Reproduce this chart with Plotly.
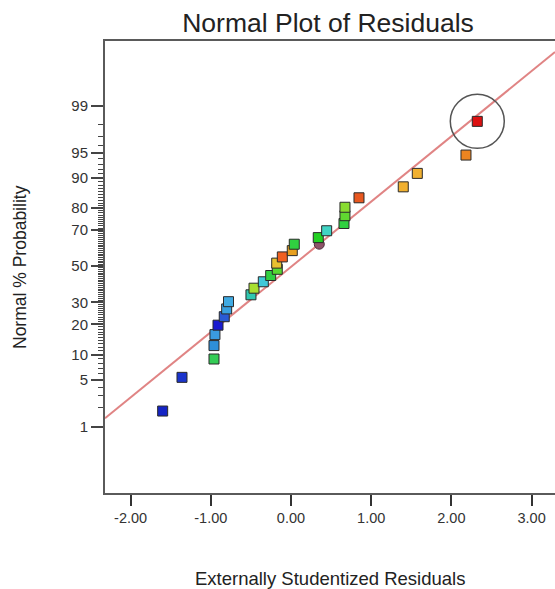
import plotly.graph_objects as go
from statistics import NormalDist

_nd = NormalDist()


def probit(pct):
    return _nd.inv_cdf(pct / 100.0)


# ---- data ----
residuals = [-1.600, -1.359, -0.960, -0.960, -0.948, -0.910, -0.832, -0.802,
             -0.779, -0.499, -0.461, -0.345, -0.253, -0.171, -0.178, -0.108,
             0.016, 0.041, 0.340, 0.445, 0.661, 0.673, 0.673, 0.848,
             1.400, 1.575, 2.182, 2.323]
normal_pct = [1.79, 5.36, 8.93, 12.50, 16.07, 19.64, 23.21, 26.79,
              30.36, 33.93, 37.50, 41.07, 44.64, 48.21, 51.79, 55.36,
              58.93, 62.50, 66.07, 69.64, 73.21, 76.79, 80.36, 83.93,
              87.50, 91.07, 94.64, 98.21]
point_colors = ["#1424c4", "#1a34cc", "#33cc55", "#2e8fd8", "#3a9be0", "#1a1ad0",
                "#2a5ad4", "#38a0e0", "#40aae2", "#30c8b0", "#a8e030", "#40c8d8",
                "#30d040", "#58d830", "#e8c030", "#f06020", "#e8a020", "#30d040",
                "#22d022", "#40d4c4", "#30d040", "#60d830", "#88dc30", "#e85820",
                "#f0b030", "#f0b030", "#ec8420", "#dd1010"]

extra_point_x = [0.353]
extra_point_pct = [62.5]

# highlighted point (circled)
highlight_x = 2.323
highlight_pct = 98.21

# reference line: z = slope * residual + intercept
line_slope = 0.946
line_intercept = -0.01

x_range = [-2.319, 3.292]
y_range = [-3.287, 3.264]

x_tick_vals = [-2, -1, 0, 1, 2, 3]
x_tick_text = ["-2.00", "-1.00", "0.00", "1.00", "2.00", "3.00"]
y_tick_pct = [1, 5, 10, 20, 30, 50, 70, 80, 90, 95, 99]
y_tick_text = ["1", "5", "10", "20", "30", "50", "70", "80", "90", "95", "99"]
y_minor_pct = list(range(1, 100))

FONT = "Liberation Sans, Arial, sans-serif"
AXIS = "#5a5a5a"

fig = go.Figure()

line_x = x_range
line_z = [line_slope * v + line_intercept for v in line_x]
fig.add_trace(go.Scatter(x=line_x, y=line_z, mode="lines",
                         line=dict(color="#e08484", width=2),
                         hoverinfo="skip", showlegend=False))

fig.add_trace(go.Scatter(x=extra_point_x, y=[probit(p) for p in extra_point_pct],
                         mode="markers",
                         marker=dict(symbol="circle", size=10, color="#8e5468",
                                     line=dict(color="#503040", width=1)),
                         showlegend=False))

fig.add_trace(go.Scatter(x=residuals, y=[probit(p) for p in normal_pct],
                         mode="markers",
                         marker=dict(symbol="square", size=10, color=point_colors,
                                     line=dict(color="#2a2a2a", width=1)),
                         showlegend=False))

fig.add_shape(type="circle", xref="x", yref="y",
              xsizemode="pixel", ysizemode="pixel",
              xanchor=highlight_x, yanchor=probit(highlight_pct),
              x0=-27, x1=27, y0=-27, y1=27,
              line=dict(color="#555555", width=1.5))

fig.update_layout(
    width=555, height=589,
    margin=dict(l=105, r=0, t=41, b=96, pad=0),
    paper_bgcolor="white", plot_bgcolor="white",
    font=dict(family=FONT, color="#333333"),
    title=dict(text="Normal Plot of Residuals", font=dict(size=26.5, color="#222222", family=FONT),
               xref="container", yref="container", x=328 / 555, y=1 - 23 / 589,
               xanchor="center", yanchor="middle"),
    xaxis=dict(range=x_range, showgrid=False, zeroline=False,
               showline=True, linecolor=AXIS, linewidth=2, mirror=True,
               tickmode="array", tickvals=x_tick_vals, ticktext=x_tick_text,
               ticks="outside", ticklen=11, tickwidth=1.5, tickcolor="#333333",
               tickfont=dict(size=14.5, color="#333333", family=FONT)),
    yaxis=dict(range=y_range, showgrid=False, zeroline=False,
               showline=True, linecolor=AXIS, linewidth=2, mirror=False,
               tickmode="array", tickvals=[probit(p) for p in y_tick_pct], ticktext=y_tick_text,
               ticks="outside", ticklen=12, tickwidth=1.5, tickcolor="#444444",
               tickfont=dict(size=15, color="#333333", family=FONT),
               minor=dict(tickmode="array", tickvals=[probit(p) for p in y_minor_pct],
                          ticks="outside", ticklen=5, tickwidth=1, tickcolor="#444444",
                          showgrid=False)),
    annotations=[
        dict(text="Normal % Probability", xref="paper", yref="paper",
             x=(20 - 105) / 450, y=(493 - 267) / 452, textangle=-90,
             showarrow=False, xanchor="center", yanchor="middle",
             font=dict(size=17.5, color="#222222", family=FONT)),
        dict(text="Externally Studentized Residuals", xref="paper", yref="paper",
             x=(330 - 105) / 450, y=(493 - 578) / 452,
             showarrow=False, xanchor="center", yanchor="middle",
             font=dict(size=18.5, color="#222222", family=FONT)),
    ],
)

fig.write_html(
    "out.html",
    config={"displayModeBar": False},
    post_script="document.body.style.margin='0';document.body.style.padding='0';"
                "document.body.style.overflow='hidden';"
                "document.documentElement.style.overflow='hidden';",
)
